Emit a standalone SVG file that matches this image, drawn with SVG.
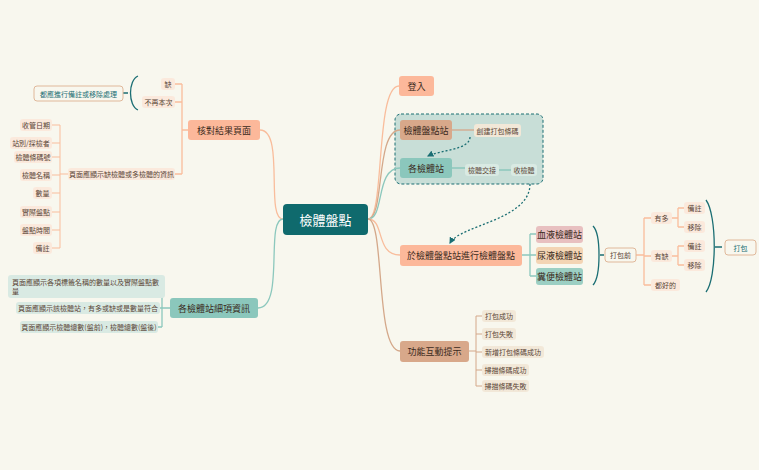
<svg xmlns="http://www.w3.org/2000/svg" width="759" height="470" viewBox="0 0 759 470">
<style>
text{font-family:"Noto Sans CJK TC","Noto Sans CJK SC",sans-serif;dominant-baseline:central;text-anchor:middle}
.s{font-size:7px;fill:#5a4536}
.m{font-size:9px;fill:#3a2a20}
.lf{fill:#fbe9dc}
.tl{fill:#d9eae3}
.c path{fill:none;stroke-width:1.3}
.pe{stroke:#f9bd9c}.ta{stroke:#d4a88a}.te{stroke:#8cc8bd}
</style>
<defs><marker id="ar" viewBox="0 0 6 6" refX="5" refY="3" markerWidth="5" markerHeight="5" orient="auto"><path d="M0,0L6,3L0,6z" fill="#1a6e73"/></marker></defs>
<rect width="759" height="470" fill="#f8f7ee"/>
<g id="group"><rect x="395" y="114" width="148" height="70" rx="6" fill="#c8ded7" stroke="#1a6e73" stroke-dasharray="3,2"/></g>
<g class="c">
<path class="pe" d="M368,219C385,219 375,86 399,86"/>
<path class="ta" d="M368,219C385,219 375,130 400,130"/>
<path class="te" d="M368,219C385,219 375,168 400,168"/>
<path class="pe" d="M368,219C385,219 375,255 400,255"/>
<path class="ta" d="M368,219C385,219 375,351 400,351"/>
<path class="pe" d="M283,219C265,219 285,130 260,130"/>
<path class="te" d="M283,219C265,219 285,308 258,308"/>
<path class="ta" d="M452,130H474"/>
<path class="te" d="M452,168H465M499,170H511"/>
<path class="te" d="M522,255H530M530,234V276M530,234H536M530,255H536M530,276H536"/>
<path class="pe" d="M636,255H644M644,218V285M644,218H651M644,256H651M644,285H651"/>
<path class="pe" d="M672,218H678M678,208V227M678,208H684M678,227H684M672,256H678M678,246V265M678,246H684M678,265H684"/>
<path class="ta" d="M469,351H476M476,316V386M476,316H482M476,334H482M476,352H482M476,370H482M476,386H482" style="stroke-width:1"/>
<path class="pe" d="M188,130H182M182,84V174M182,84H175M182,102H175M182,174H175"/>
<path class="pe" d="M68,174H60M60,125V248M60,125H52M60,143H52M60,157H52M60,175H52M60,193H52M60,212H52M60,230H52M60,248H52" style="stroke-width:1"/>
<path class="te" d="M170,308H162M162,290V327M162,290H165M162,308H160M162,327H158"/>
<path d="M470,137C470,150 440,150 428,156" stroke="#1a6e73" stroke-dasharray="2,2" marker-end="url(#ar)"/>
<path d="M530,184C530,220 460,225 450,243" stroke="#1a6e73" stroke-dasharray="2,2" marker-end="url(#ar)"/>
<path d="M138,76C128,80 128,106 138,110M128,93H123" stroke="#1a6e73"/>
<path d="M593,226C601,234 601,276 593,285M600,255H604" stroke="#1a6e73"/>
<path d="M706,200C717,215 717,278 706,292M715,247H722" stroke="#1a6e73"/>
</g>
<g id="center"><rect x="283" y="204" width="85" height="31" rx="4" fill="#0f6a6d"/><text x="325.5" y="219.5" style="font-size:13px;fill:#fff">檢體盤點</text></g>
<g id="login"><rect x="399" y="76" width="35" height="20" rx="3" fill="#fcb89a"/><text class="m" x="416.5" y="86">登入</text></g>
<g id="n1"><rect x="400" y="120" width="52" height="20" rx="3" fill="#d8a88a"/><text class="m" x="426" y="130">檢體盤點站</text></g>
<g id="n1a"><rect x="474" y="124" width="47" height="13" rx="3" fill="#f2e8d8"/><text class="s" x="497.5" y="130.5">創建打包條碼</text></g>
<g id="n2"><rect x="400" y="158" width="52" height="20" rx="3" fill="#8bc7bc"/><text class="m" x="426" y="168">各檢體站</text></g>
<g id="n2a"><rect x="465" y="164" width="34" height="12" rx="3" class="tl"/><text class="s" x="482" y="170">檢體交接</text></g>
<g id="n2b"><rect x="511" y="164" width="26" height="12" rx="3" class="tl"/><text class="s" x="524" y="170">收檢體</text></g>
<g id="n3"><rect x="400" y="245" width="122" height="21" rx="3" fill="#fcb89a"/><text class="m" x="461" y="255.5">於檢體盤點站進行檢體盤點</text></g>
<g id="b1"><rect x="536" y="226" width="47" height="17" rx="3" fill="#e8c0c0"/><text class="m" x="559.5" y="234.5">血液檢體站</text></g>
<g id="b2"><rect x="536" y="247" width="47" height="17" rx="3" fill="#f3d4b4"/><text class="m" x="559.5" y="255.5">尿液檢體站</text></g>
<g id="b3"><rect x="536" y="268" width="47" height="17" rx="3" fill="#9ccfc3"/><text class="m" x="559.5" y="276.5">糞便檢體站</text></g>
<g id="pre"><rect x="605" y="248" width="31" height="14" rx="3" fill="#f8f7ee" stroke="#e0b89a"/><text class="s" x="620.5" y="255">打包前</text></g>
<g id="more"><rect x="651" y="212" width="21" height="12" rx="3" class="lf"/><text class="s" x="661.5" y="218">有多</text></g>
<g id="m1"><rect x="684" y="202" width="21" height="12" rx="3" class="lf"/><text class="s" x="694.5" y="208">備註</text></g>
<g id="m2"><rect x="684" y="221" width="21" height="12" rx="3" class="lf"/><text class="s" x="694.5" y="227">移除</text></g>
<g id="less"><rect x="651" y="250" width="21" height="12" rx="3" class="lf"/><text class="s" x="661.5" y="256">有缺</text></g>
<g id="l1"><rect x="684" y="240" width="21" height="12" rx="3" class="lf"/><text class="s" x="694.5" y="246">備註</text></g>
<g id="l2"><rect x="684" y="259" width="21" height="12" rx="3" class="lf"/><text class="s" x="694.5" y="265">移除</text></g>
<g id="ok"><rect x="651" y="279" width="29" height="12" rx="3" class="lf"/><text class="s" x="665.5" y="285">都好的</text></g>
<g id="pack"><rect x="725" y="240" width="31" height="15" rx="3" fill="#f8f7ee" stroke="#e0b89a"/><text class="s" x="740.5" y="247.5" style="fill:#1a6e73">打包</text></g>
<g id="n4"><rect x="400" y="341" width="69" height="21" rx="3" fill="#d8a88a"/><text class="m" x="434.5" y="351.5">功能互動提示</text></g>
<g id="f1"><rect x="482" y="310" width="34" height="12" rx="3" fill="#f2e8d8"/><text class="s" x="499" y="316">打包成功</text></g>
<g id="f2"><rect x="482" y="328" width="34" height="12" rx="3" fill="#f2e8d8"/><text class="s" x="499" y="334">打包失敗</text></g>
<g id="f3"><rect x="482" y="346" width="62" height="12" rx="3" fill="#f2e8d8"/><text class="s" x="513" y="352">新增打包條碼成功</text></g>
<g id="f4"><rect x="482" y="364" width="47" height="12" rx="3" fill="#f2e8d8"/><text class="s" x="505.5" y="370">掃描條碼成功</text></g>
<g id="f5"><rect x="482" y="380" width="47" height="12" rx="3" fill="#f2e8d8"/><text class="s" x="505.5" y="386">掃描條碼失敗</text></g>
<g id="n5"><rect x="188" y="120" width="72" height="20" rx="3" fill="#fcb89a"/><text class="m" x="224" y="130">核對結果頁面</text></g>
<g id="q1"><rect x="161" y="78" width="14" height="12" rx="3" class="lf"/><text class="s" x="168" y="84">缺</text></g>
<g id="q2"><rect x="142" y="96" width="33" height="12" rx="3" class="lf"/><text class="s" x="158.5" y="102">不再本次</text></g>
<g id="q3"><rect x="34" y="86" width="89" height="15" rx="3" fill="#f8f7ee" stroke="#e0b89a"/><text class="s" x="78.5" y="93.5" style="fill:#1a6e73">都應進行備註或移除處理</text></g>
<g id="q4"><rect x="68" y="168" width="107" height="12" rx="3" class="lf"/><text class="s" x="121.5" y="174">頁面應顯示缺檢體或多檢體的資訊</text></g>
<g id="i1"><rect x="20" y="119" width="32" height="12" rx="3" class="lf"/><text class="s" x="36" y="125">收管日期</text></g>
<g id="i2"><rect x="10" y="137" width="42" height="12" rx="3" class="lf"/><text class="s" x="31" y="143">站別/採檢者</text></g>
<g id="i3"><rect x="14" y="151" width="38" height="12" rx="3" class="lf"/><text class="s" x="33" y="157">檢體條碼號</text></g>
<g id="i4"><rect x="20" y="169" width="32" height="12" rx="3" class="lf"/><text class="s" x="36" y="175">檢體名稱</text></g>
<g id="i5"><rect x="33" y="187" width="19" height="12" rx="3" class="lf"/><text class="s" x="42.5" y="193">數量</text></g>
<g id="i6"><rect x="20" y="206" width="32" height="12" rx="3" class="lf"/><text class="s" x="36" y="212">實際盤點</text></g>
<g id="i7"><rect x="20" y="224" width="32" height="12" rx="3" class="lf"/><text class="s" x="36" y="230">盤點時間</text></g>
<g id="i8"><rect x="33" y="242" width="19" height="12" rx="3" class="lf"/><text class="s" x="42.5" y="248">備註</text></g>
<g id="n6"><rect x="170" y="298" width="88" height="20" rx="3" fill="#8bc7bc"/><text class="m" x="214" y="308">各檢體站細項資訊</text></g>
<g id="d1"><rect x="8" y="275" width="157" height="23" rx="3" class="tl"/><text class="s" x="12" y="282" style="text-anchor:start">頁面應顯示各項標籤名稱的數量以及實際盤點數</text><text class="s" x="12" y="291" style="text-anchor:start">量</text></g>
<g id="d2"><rect x="16" y="302" width="144" height="12" rx="3" class="tl"/><text class="s" x="88" y="308">頁面應顯示該檢體站，有多或缺或是數量符合</text></g>
<g id="d3"><rect x="20" y="321" width="138" height="12" rx="3" class="tl"/><text class="s" x="89" y="327">頁面應顯示檢體總數(盤前)，檢體總數(盤後)</text></g>
</svg>
